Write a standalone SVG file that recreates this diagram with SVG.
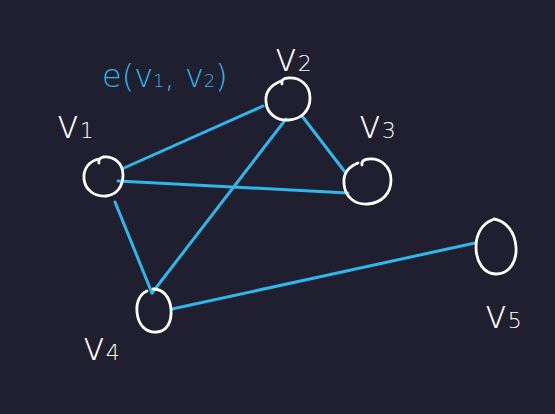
<svg xmlns="http://www.w3.org/2000/svg" width="555" height="414" viewBox="0 0 555 414">
<style>
.node{fill:none;stroke:#ffffff;stroke-width:2.8;stroke-linecap:round;stroke-linejoin:round}
.edge{stroke:#2fb6eb;stroke-width:3;stroke-linecap:round;fill:none}
.lbl{fill:#ffffff;font-family:"DejaVu Sans","Liberation Sans",sans-serif;font-size:40px;font-weight:300}
.sub{font-size:22px}
.elbl{fill:#2fb6eb;font-family:"DejaVu Sans","Liberation Sans",sans-serif;font-size:32px;font-weight:300}
</style>
<rect width="555" height="414" fill="#1f1f30"/>
<g id="connectors">
<line class="edge" x1="124" y1="168" x2="263" y2="106"/>
<line class="edge" x1="118" y1="181" x2="348" y2="193"/>
<line class="edge" x1="302" y1="116" x2="345" y2="172"/>
<line class="edge" x1="286" y1="119" x2="152" y2="293"/>
<line class="edge" x1="115" y1="202" x2="152" y2="293"/>
<line class="edge" x1="172" y1="309" x2="475" y2="243"/>
</g>
<g id="v1">
<path class="node" d="M99 159 C89 161 83 169 84 179 C85 190 95 197 106 196 C117 195 123 186 123 175 C123 163 114 156 103 157 C100 158 98 160 99 163"/>
<text class="lbl" x="56" y="138">v<tspan class="sub">1</tspan></text>
</g>
<g id="v2">
<path class="node" d="M281 81 C271 85 265 92 266 102 C267 114 277 121 289 120 C302 119 310 110 310 98 C310 85 300 77 288 78 C284 78 281 80 282 84"/>
<text class="lbl" x="274" y="71">v<tspan class="sub">2</tspan></text>
</g>
<g id="v3">
<path class="node" d="M358 163 C348 167 343 174 344 184 C345 197 355 205 368 204 C382 203 391 193 391 180 C391 167 381 158 369 159 C365 159 361 161 362 165"/>
<text class="lbl" x="358" y="138">v<tspan class="sub">3</tspan></text>
</g>
<g id="v4">
<path class="node" d="M147 291 C140 294 136 302 137 312 C138 325 146 333 157 332 C167 331 172 322 171 309 C170 297 163 289 153 289"/>
<text class="lbl" x="82" y="360">v<tspan class="sub">4</tspan></text>
</g>
<g id="v5">
<path class="node" d="M492 220 C482 224 476 234 476 247 C476 262 484 274 496 274 C509 274 517 262 516 247 C515 232 506 221 494 219"/>
<text class="lbl" x="484" y="328">v<tspan class="sub">5</tspan></text>
</g>
<text class="elbl" x="102" y="87">e(v<tspan font-size="18">1</tspan>, v<tspan font-size="18">2</tspan>)</text>
</svg>
